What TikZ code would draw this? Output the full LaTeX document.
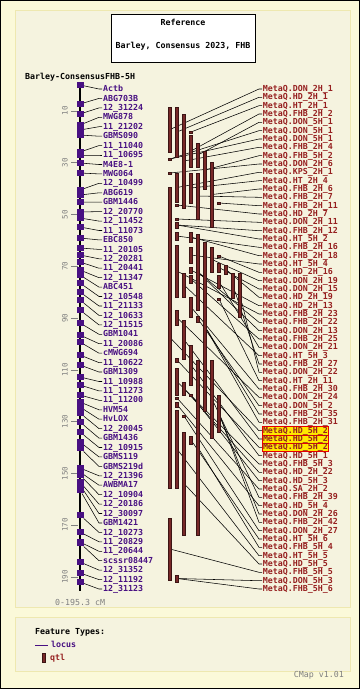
\documentclass[tikz,border=0pt]{standalone}
\usepackage{fontspec}
\setmonofont{DejaVu Sans Mono}
\usetikzlibrary{positioning}
\pgfdeclarelayer{back}
\pgfdeclarelayer{lines}
\pgfsetlayers{back,lines,main}
\definecolor{outerbg}{RGB}{251,249,217}
\definecolor{panelbg}{RGB}{245,243,223}
\definecolor{panelline}{RGB}{238,232,176}
\definecolor{locviolet}{RGB}{72,16,130}
\definecolor{qtlfill}{RGB}{120,40,40}
\definecolor{qtledge}{RGB}{60,20,20}
\definecolor{qtltext}{RGB}{150,32,32}
\definecolor{hiyellow}{RGB}{255,232,0}
\definecolor{hired}{RGB}{230,0,0}
\definecolor{scalegray}{RGB}{128,128,128}

\begin{document}
\begin{tikzpicture}[x=1pt, y=-1pt, inner sep=0pt,
      font=\ttfamily\bfseries\fontsize{8.3}{9}\selectfont,
      plain/.style={anchor=west, inner sep=1pt},
      locus/.style={anchor=west, text=locviolet, inner sep=1pt, text height=6pt, text depth=0.8pt},
      lblock/.style={rectangle, fill=locviolet, minimum width=7pt, minimum height=6.5pt},
      qtl/.style={rectangle, draw=qtledge, fill=qtlfill, line width=0.5pt, minimum width=3.4pt},
      qtick/.style={qtl, minimum height=1.6pt},
      qlabel/.style={anchor=west, text=qtltext, inner sep=0.7pt, text height=6pt, text depth=0.8pt},
      hilite/.style={fill=hiyellow, draw=hired, line width=0.6pt},
      scalelab/.style={rotate=90, text=scalegray, font=\ttfamily\mdseries\fontsize{7.5}{8}\selectfont},
      scaletick/.style={draw=scalegray, line width=0.6pt},
      link/.style={draw=black, line width=0.55pt,
        to path={-- ([xshift=-3pt]\tikztotarget.west) -- (\tikztotarget.west)}}]
  \useasboundingbox (0,0) rectangle (360,689);
  % frame and panels
  \begin{pgfonlayer}{back}
    \fill[outerbg] (0,0) rectangle (360,689);
    \draw[black, line width=1pt] (0.5,0.5) rectangle (359.5,688.5);
    \draw[panelline, fill=panelbg] (15,10) rectangle (350,607);
    \draw[panelline, fill=panelbg] (15,617) rectangle (350,671);
  \end{pgfonlayer}
  % reference box
  \node[draw=black, fill=white, line width=0.6pt, minimum width=144pt, minimum height=48pt] (refbox) at (183,38) {};
  \node (reftitle) at (183,22) {Reference};
  \node (refname) at (183,46) {Barley, Consensus 2023, FHB};
  \node[plain] (mapname) at (24,77) {Barley-ConsensusFHB-5H};
  % chromosome and scale
  \coordinate (chr_top) at (80,85);
  \coordinate (chr_bot) at (80,591);
  \draw[black, line width=2pt] (chr_top) -- (chr_bot);
  \draw[scaletick] (71,110.9) -- (78,110.9); \node[scalelab] (s_10) at (65,110.9) {10};
  \draw[scaletick] (71,162.7) -- (78,162.7); \node[scalelab] (s_30) at (65,162.7) {30};
  \draw[scaletick] (71,214.5) -- (78,214.5); \node[scalelab] (s_50) at (65,214.5) {50};
  \draw[scaletick] (71,266.2) -- (78,266.2); \node[scalelab] (s_70) at (65,266.2) {70};
  \draw[scaletick] (71,318.0) -- (78,318.0); \node[scalelab] (s_90) at (65,318.0) {90};
  \draw[scaletick] (71,369.8) -- (78,369.8); \node[scalelab] (s_110) at (65,369.8) {110};
  \draw[scaletick] (71,421.6) -- (78,421.6); \node[scalelab] (s_130) at (65,421.6) {130};
  \draw[scaletick] (71,473.4) -- (78,473.4); \node[scalelab] (s_150) at (65,473.4) {150};
  \draw[scaletick] (71,525.1) -- (78,525.1); \node[scalelab] (s_170) at (65,525.1) {170};
  \draw[scaletick] (71,576.9) -- (78,576.9); \node[scalelab] (s_190) at (65,576.9) {190};
  \node[plain, text=scalegray, font=\ttfamily\mdseries\fontsize{8.3}{9}\selectfont] (span) at (54,602) {0-195.3 cM};
  % loci on the chromosome
  \node[lblock] (lc_1) at (80,85) {};   \node[locus] (mk_1) at (102,89.0) {Actb};
  \node[lblock] (lc_2) at (80,104) {};  \node[locus] (mk_2) at (102,98.4) {ABG703B};
  \node[lblock] (lc_3) at (80,114) {};  \node[locus] (mk_3) at (102,107.9) {12\_31224};
  \node[lblock] (lc_4) at (80,125) {};  \node[locus] (mk_4) at (102,117.3) {MWG878};
  \node[lblock] (lc_5) at (80,130) {};  \node[locus] (mk_5) at (102,126.7) {11\_21202};
  \node[lblock] (lc_6) at (80,135) {};  \node[locus] (mk_6) at (102,136.2) {GBMS090};
  \node[lblock] (lc_7) at (80,152) {};  \node[locus] (mk_7) at (102,145.6) {11\_11040};
  \node[lblock] (lc_8) at (80,155) {};  \node[locus] (mk_8) at (102,155.0) {11\_10695};
  \node[lblock] (lc_9) at (80,163) {};  \node[locus] (mk_9) at (102,164.5) {M4E8-1};
  \node[lblock] (lc_10) at (80,173) {}; \node[locus] (mk_10) at (102,173.9) {MWG064};
  \node[lblock] (lc_11) at (80,190) {}; \node[locus] (mk_11) at (102,183.3) {12\_10499};
  \node[lblock] (lc_12) at (80,195) {}; \node[locus] (mk_12) at (102,192.8) {ABG619};
  \node[lblock] (lc_13) at (80,202) {}; \node[locus] (mk_13) at (102,202.2) {GBM1446};
  \node[lblock] (lc_14) at (80,212) {}; \node[locus] (mk_14) at (102,211.6) {12\_20770};
  \node[lblock] (lc_15) at (80,218) {}; \node[locus] (mk_15) at (102,221.1) {12\_11452};
  \node[lblock] (lc_16) at (80,227) {}; \node[locus] (mk_16) at (102,230.5) {11\_11073};
  \node[lblock] (lc_17) at (80,238) {}; \node[locus] (mk_17) at (102,239.9) {EBC850};
  \node[lblock] (lc_18) at (80,248) {}; \node[locus] (mk_18) at (102,249.4) {11\_20105};
  \node[lblock] (lc_19) at (80,255) {}; \node[locus] (mk_19) at (102,258.8) {12\_20281};
  \node[lblock] (lc_20) at (80,262) {}; \node[locus] (mk_20) at (102,268.2) {11\_20441};
  \node[lblock] (lc_21) at (80,270) {}; \node[locus] (mk_21) at (102,277.7) {12\_11347};
  \node[lblock] (lc_22) at (80,275) {}; \node[locus] (mk_22) at (102,287.1) {ABC451};
  \node[lblock] (lc_23) at (80,283) {}; \node[locus] (mk_23) at (102,296.5) {12\_10548};
  \node[lblock] (lc_24) at (80,292) {}; \node[locus] (mk_24) at (102,306.0) {11\_21133};
  \node[lblock] (lc_25) at (80,300) {}; \node[locus] (mk_25) at (102,315.4) {12\_10633};
  \node[lblock] (lc_26) at (80,310) {}; \node[locus] (mk_26) at (102,324.9) {12\_11515};
  \node[lblock] (lc_27) at (80,323) {}; \node[locus] (mk_27) at (102,334.3) {GBM1041};
  \node[lblock] (lc_28) at (80,335) {}; \node[locus] (mk_28) at (102,343.7) {11\_20086};
  \node[lblock] (lc_29) at (80,342) {}; \node[locus] (mk_29) at (102,353.2) {cMWG694};
  \node[lblock] (lc_30) at (80,355) {}; \node[locus] (mk_30) at (102,362.6) {11\_10622};
  \node[lblock] (lc_31) at (80,365) {}; \node[locus] (mk_31) at (102,372.0) {GBM1309};
  \node[lblock] (lc_32) at (80,377) {}; \node[locus] (mk_32) at (102,381.5) {11\_10988};
  \node[lblock] (lc_33) at (80,385) {}; \node[locus] (mk_33) at (102,390.9) {11\_11273};
  \node[lblock] (lc_34) at (80,395) {}; \node[locus] (mk_34) at (102,400.3) {11\_11200};
  \node[lblock] (lc_35) at (80,402) {}; \node[locus] (mk_35) at (102,409.8) {HVM54};
  \node[lblock] (lc_36) at (80,407) {}; \node[locus] (mk_36) at (102,419.2) {HvLOX};
  \node[lblock] (lc_37) at (80,413) {}; \node[locus] (mk_37) at (102,428.6) {12\_20045};
  \node[lblock] (lc_38) at (80,422) {}; \node[locus] (mk_38) at (102,438.1) {GBM1436};
  \node[lblock] (lc_39) at (80,432) {}; \node[locus] (mk_39) at (102,447.5) {12\_10915};
  \node[lblock] (lc_40) at (80,442) {}; \node[locus] (mk_40) at (102,456.9) {GBMS119};
  \node[lblock] (lc_41) at (80,448) {}; \node[locus] (mk_41) at (102,466.4) {GBMS219d};
  \node[lblock] (lc_42) at (80,468) {}; \node[locus] (mk_42) at (102,475.8) {12\_21396};
  \node[lblock] (lc_43) at (80,472) {}; \node[locus] (mk_43) at (102,485.2) {AWBMA17};
  \node[lblock] (lc_44) at (80,475) {}; \node[locus] (mk_44) at (102,494.7) {12\_10904};
  \node[lblock] (lc_45) at (80,482) {}; \node[locus] (mk_45) at (102,504.1) {12\_20186};
  \node[lblock] (lc_46) at (80,485) {}; \node[locus] (mk_46) at (102,513.5) {12\_30097};
  \node[lblock] (lc_47) at (80,490) {}; \node[locus] (mk_47) at (102,523.0) {GBM1421};
  \node[lblock] (lc_48) at (80,515) {}; \node[locus] (mk_48) at (102,532.4) {12\_10273};
  \node[lblock] (lc_49) at (80,532) {}; \node[locus] (mk_49) at (102,541.8) {11\_20829};
  \node[lblock] (lc_50) at (80,542) {}; \node[locus] (mk_50) at (102,551.3) {11\_20644};
  \node[lblock] (lc_51) at (80,543) {}; \node[locus] (mk_51) at (102,560.7) {scssr08447};
  \node[lblock] (lc_52) at (80,562) {}; \node[locus] (mk_52) at (102,570.1) {12\_31352};
  \node[lblock] (lc_53) at (80,573) {}; \node[locus] (mk_53) at (102,579.6) {12\_11192};
  \node[lblock] (lc_54) at (80,582) {}; \node[locus] (mk_54) at (102,589.0) {12\_31123};
  % qtl bars, one column at a time
  \node[qtl, minimum height=45pt] (b_A1) at (170,129.5) {};
  \node[qtick] (b_A2) at (170,159) {};
  \node[qtick] (b_A3) at (170,173) {};
  \node[qtl, minimum height=301pt] (b_A4) at (170,337.5) {};
  \node[qtl, minimum height=62pt] (b_A5) at (170,549) {};
  \node[qtl, minimum height=50pt] (b_B1) at (177,132) {};
  \node[qtl, minimum height=29pt] (b_B2) at (177,187.5) {};
  \node[qtick] (b_B3) at (177,205) {};
  \node[qtick] (b_B4) at (177,219) {};
  \node[qtl, minimum height=6pt] (b_B5) at (177,225) {};
  \node[qtl, minimum height=8pt] (b_B6) at (177,236) {};
  \node[qtl, minimum height=52pt] (b_B7) at (177,271) {};
  \node[qtl, minimum height=15pt] (b_B8) at (177,317.5) {};
  \node[qtl, minimum height=4pt] (b_B9) at (177,360) {};
  \node[qtl, minimum height=27pt] (b_B10) at (177,381.5) {};
  \node[qtick] (b_B11) at (177,398) {};
  \node[qtl, minimum height=5pt] (b_B12) at (177,404.5) {};
  \node[qtl, minimum height=78pt] (b_B13) at (177,449) {};
  \node[qtl, minimum height=7pt] (b_B14) at (177,578.5) {};
  \node[qtl, minimum height=94pt] (b_C1) at (184,161) {};
  \node[qtl, minimum height=24pt] (b_C2) at (184,285) {};
  \node[qtl, minimum height=39pt] (b_C3) at (184,339.5) {};
  \node[qtl, minimum height=13pt] (b_C4) at (184,388.5) {};
  \node[qtick] (b_Ct) at (184,416) {};
  \node[qtl, minimum height=103pt] (b_C5) at (184,483.5) {};
  \node[qtick] (b_D1) at (191,132) {};
  \node[qtl, minimum height=32pt] (b_D2) at (191,151) {};
  \node[qtl, minimum height=30pt] (b_D3) at (191,188) {};
  \node[qtl, minimum height=10pt] (b_D4) at (191,237) {};
  \node[qtl, minimum height=16pt] (b_D5) at (191,255) {};
  \node[qtl, minimum height=6pt] (b_D6) at (191,270) {};
  \node[qtl, minimum height=8pt] (b_D7) at (191,279) {};
  \node[qtl, minimum height=20pt] (b_D8) at (191,307) {};
  \node[qtl, minimum height=40pt] (b_D9) at (191,365) {};
  \node[qtick] (b_Dt) at (191,395) {};
  \node[qtl, minimum height=8pt] (b_D10) at (191,440) {};
  \node[qtl, minimum height=24pt] (b_E1) at (198,155) {};
  \node[qtl, minimum height=46pt] (b_E2) at (198,196) {};
  \node[qtl, minimum height=76pt] (b_E3) at (198,272) {};
  \node[qtl, minimum height=6pt] (b_E4) at (198,319) {};
  \node[qtl, minimum height=175pt] (b_E5) at (198,447.5) {};
  \node[qtl, minimum height=38pt] (b_F1) at (205,170) {};
  \node[qtl, minimum height=169pt] (b_F2) at (205,326.5) {};
  \node[qtl, minimum height=65pt] (b_G1) at (212,194.5) {};
  \node[qtl, minimum height=25pt] (b_G2) at (212,259.5) {};
  \node[qtl, minimum height=78pt] (b_G3) at (212,399) {};
  \node[qtick] (b_H0) at (219,203) {};
  \node[qtick] (b_H1) at (219,256) {};
  \node[qtl, minimum height=9pt] (b_H2) at (219,267.5) {};
  \node[qtl, minimum height=13pt] (b_H3) at (219,281.5) {};
  \node[qtick] (b_H4) at (219,299) {};
  \node[qtl, minimum height=37pt] (b_H5) at (219,413.5) {};
  \node[qtl, minimum height=9pt] (b_I1) at (226,269.5) {};
  \node[qtl, minimum height=25pt] (b_J1) at (233,285.5) {};
  \node[qtl, minimum height=44pt] (b_K1) at (240,295) {};
  % qtl labels
  \node[qlabel] (ql_1) at (262,89.0) {MetaQ.DON\_2H\_1};
  \node[qlabel] (ql_2) at (262,97.3) {MetaQ.HD\_2H\_1};
  \node[qlabel] (ql_3) at (262,105.7) {MetaQ.HT\_2H\_1};
  \node[qlabel] (ql_4) at (262,114.0) {MetaQ.FHB\_2H\_2};
  \node[qlabel] (ql_5) at (262,122.3) {MetaQ.DON\_5H\_1};
  \node[qlabel] (ql_6) at (262,130.7) {MetaQ.DON\_5H\_1};
  \node[qlabel] (ql_7) at (262,139.0) {MetaQ.DON\_5H\_1};
  \node[qlabel] (ql_8) at (262,147.3) {MetaQ.FHB\_2H\_4};
  \node[qlabel] (ql_9) at (262,155.7) {MetaQ.FHB\_5H\_2};
  \node[qlabel] (ql_10) at (262,164.0) {MetaQ.DON\_2H\_6};
  \node[qlabel] (ql_11) at (262,172.3) {MetaQ.KPS\_2H\_1};
  \node[qlabel] (ql_12) at (262,180.7) {MetaQ.HT\_2H\_4};
  \node[qlabel] (ql_13) at (262,189.0) {MetaQ.FHB\_2H\_6};
  \node[qlabel] (ql_14) at (262,197.3) {MetaQ.FHB\_2H\_7};
  \node[qlabel] (ql_15) at (262,205.7) {MetaQ.FHB\_2H\_11};
  \node[qlabel] (ql_16) at (262,214.0) {MetaQ.HD\_2H\_7};
  \node[qlabel] (ql_17) at (262,222.3) {MetaQ.DON\_2H\_11};
  \node[qlabel] (ql_18) at (262,230.7) {MetaQ.FHB\_2H\_12};
  \node[qlabel] (ql_19) at (262,239.0) {MetaQ.HT\_5H\_2};
  \node[qlabel] (ql_20) at (262,247.3) {MetaQ.FHB\_2H\_16};
  \node[qlabel] (ql_21) at (262,255.7) {MetaQ.FHB\_2H\_18};
  \node[qlabel] (ql_22) at (262,264.0) {MetaQ.HT\_5H\_4};
  \node[qlabel] (ql_23) at (262,272.3) {MetaQ.HD\_2H\_16};
  \node[qlabel] (ql_24) at (262,280.7) {MetaQ.DON\_2H\_19};
  \node[qlabel] (ql_25) at (262,289.0) {MetaQ.DON\_2H\_15};
  \node[qlabel] (ql_26) at (262,297.3) {MetaQ.HD\_2H\_19};
  \node[qlabel] (ql_27) at (262,305.7) {MetaQ.HD\_2H\_13};
  \node[qlabel] (ql_28) at (262,314.0) {MetaQ.FHB\_2H\_23};
  \node[qlabel] (ql_29) at (262,322.3) {MetaQ.FHB\_2H\_22};
  \node[qlabel] (ql_30) at (262,330.7) {MetaQ.DON\_2H\_13};
  \node[qlabel] (ql_31) at (262,339.0) {MetaQ.FHB\_2H\_25};
  \node[qlabel] (ql_32) at (262,347.3) {MetaQ.DON\_2H\_21};
  \node[qlabel] (ql_33) at (262,355.7) {MetaQ.HT\_5H\_3};
  \node[qlabel] (ql_34) at (262,364.0) {MetaQ.FHB\_2H\_27};
  \node[qlabel] (ql_35) at (262,372.3) {MetaQ.DON\_2H\_22};
  \node[qlabel] (ql_36) at (262,380.7) {MetaQ.HT\_2H\_11};
  \node[qlabel] (ql_37) at (262,389.0) {MetaQ.FHB\_2H\_30};
  \node[qlabel] (ql_38) at (262,397.3) {MetaQ.DON\_2H\_24};
  \node[qlabel] (ql_39) at (262,405.7) {MetaQ.DON\_5H\_2};
  \node[qlabel] (ql_40) at (262,414.0) {MetaQ.FHB\_2H\_35};
  \node[qlabel] (ql_41) at (262,422.3) {MetaQ.FHB\_2H\_31};
  \node[qlabel, hilite] (ql_42) at (262,430.7) {MetaQ.HD\_5H\_2};
  \node[qlabel, hilite] (ql_43) at (262,439.0) {MetaQ.HD\_5H\_2};
  \node[qlabel, hilite] (ql_44) at (262,447.3) {MetaQ.HD\_5H\_2};
  \node[qlabel] (ql_45) at (262,455.7) {MetaQ.HD\_5H\_1};
  \node[qlabel] (ql_46) at (262,464.0) {MetaQ.FHB\_5H\_3};
  \node[qlabel] (ql_47) at (262,472.3) {MetaQ.HD\_2H\_22};
  \node[qlabel] (ql_48) at (262,480.7) {MetaQ.HD\_5H\_3};
  \node[qlabel] (ql_49) at (262,489.0) {MetaQ.SA\_2H\_2};
  \node[qlabel] (ql_50) at (262,497.3) {MetaQ.FHB\_2H\_39};
  \node[qlabel] (ql_51) at (262,505.7) {MetaQ.HD\_5H\_4};
  \node[qlabel] (ql_52) at (262,514.0) {MetaQ.DON\_2H\_26};
  \node[qlabel] (ql_53) at (262,522.3) {MetaQ.FHB\_2H\_42};
  \node[qlabel] (ql_54) at (262,530.7) {MetaQ.DON\_2H\_27};
  \node[qlabel] (ql_55) at (262,539.0) {MetaQ.HT\_5H\_6};
  \node[qlabel] (ql_56) at (262,547.3) {MetaQ.FHB\_5H\_4};
  \node[qlabel] (ql_57) at (262,555.7) {MetaQ.HT\_5H\_5};
  \node[qlabel] (ql_58) at (262,564.0) {MetaQ.HD\_5H\_5};
  \node[qlabel] (ql_59) at (262,572.3) {MetaQ.FHB\_5H\_5};
  \node[qlabel] (ql_60) at (262,580.7) {MetaQ.DON\_5H\_3};
  \node[qlabel] (ql_61) at (262,589.0) {MetaQ.FHB\_5H\_6};
  % connectors, kept under the bars
  \begin{pgfonlayer}{lines}
    \path (lc_1) edge[link] (mk_1);   \path (lc_2) edge[link] (mk_2);   \path (lc_3) edge[link] (mk_3);
    \path (lc_4) edge[link] (mk_4);   \path (lc_5) edge[link] (mk_5);   \path (lc_6) edge[link] (mk_6);
    \path (lc_7) edge[link] (mk_7);   \path (lc_8) edge[link] (mk_8);   \path (lc_9) edge[link] (mk_9);
    \path (lc_10) edge[link] (mk_10); \path (lc_11) edge[link] (mk_11); \path (lc_12) edge[link] (mk_12);
    \path (lc_13) edge[link] (mk_13); \path (lc_14) edge[link] (mk_14); \path (lc_15) edge[link] (mk_15);
    \path (lc_16) edge[link] (mk_16); \path (lc_17) edge[link] (mk_17); \path (lc_18) edge[link] (mk_18);
    \path (lc_19) edge[link] (mk_19); \path (lc_20) edge[link] (mk_20); \path (lc_21) edge[link] (mk_21);
    \path (lc_22) edge[link] (mk_22); \path (lc_23) edge[link] (mk_23); \path (lc_24) edge[link] (mk_24);
    \path (lc_25) edge[link] (mk_25); \path (lc_26) edge[link] (mk_26); \path (lc_27) edge[link] (mk_27);
    \path (lc_28) edge[link] (mk_28); \path (lc_29) edge[link] (mk_29); \path (lc_30) edge[link] (mk_30);
    \path (lc_31) edge[link] (mk_31); \path (lc_32) edge[link] (mk_32); \path (lc_33) edge[link] (mk_33);
    \path (lc_34) edge[link] (mk_34); \path (lc_35) edge[link] (mk_35); \path (lc_36) edge[link] (mk_36);
    \path (lc_37) edge[link] (mk_37); \path (lc_38) edge[link] (mk_38); \path (lc_39) edge[link] (mk_39);
    \path (lc_40) edge[link] (mk_40); \path (lc_41) edge[link] (mk_41); \path (lc_42) edge[link] (mk_42);
    \path (lc_43) edge[link] (mk_43); \path (lc_44) edge[link] (mk_44); \path (lc_45) edge[link] (mk_45);
    \path (lc_46) edge[link] (mk_46); \path (lc_47) edge[link] (mk_47); \path (lc_48) edge[link] (mk_48);
    \path (lc_49) edge[link] (mk_49); \path (lc_50) edge[link] (mk_50); \path (lc_51) edge[link] (mk_51);
    \path (lc_52) edge[link] (mk_52); \path (lc_53) edge[link] (mk_53); \path (lc_54) edge[link] (mk_54);
    % qtl to label
    \path (b_A1) edge[link] (ql_1);  \path (b_B1) edge[link] (ql_2);  \path (b_D1) edge[link] (ql_3);
    \path (b_D2) edge[link] (ql_4);  \path (b_E1) edge[link] (ql_5);  \path (b_A2) edge[link] (ql_6);
    \path (b_A2) edge[link] (ql_7);  \path (b_C1) edge[link] (ql_8);  \path (b_F1) edge[link] (ql_9);
    \path (b_A3) edge[link] (ql_10); \path (b_B2) edge[link] (ql_11); \path (b_D3) edge[link] (ql_12);
    \path (b_G1) edge[link] (ql_13); \path (b_E2) edge[link] (ql_14); \path (b_H0) edge[link] (ql_15);
    \path (b_B3) edge[link] (ql_16); \path (b_B4) edge[link] (ql_17); \path (b_B5) edge[link] (ql_18);
    \path (b_B5) edge[link] (ql_19); \path (b_B6) edge[link] (ql_20); \path (b_D4) edge[link] (ql_21);
    \path (b_D5) edge[link] (ql_22); \path (b_H1) edge[link] (ql_23); \path (b_G2) edge[link] (ql_24);
    \path (b_H2) edge[link] (ql_25); \path (b_I1) edge[link] (ql_26); \path (b_D6) edge[link] (ql_27);
    \path (b_B7) edge[link] (ql_28); \path (b_E3) edge[link] (ql_29); \path (b_E3) edge[link] (ql_30);
    \path (b_D7) edge[link] (ql_31); \path (b_H3) edge[link] (ql_32); \path (b_C2) edge[link] (ql_33);
    \path (b_J1) edge[link] (ql_34); \path (b_K1) edge[link] (ql_35); \path (b_H4) edge[link] (ql_36);
    \path (b_D8) edge[link] (ql_37); \path (b_B8) edge[link] (ql_38); \path (b_E4) edge[link] (ql_39);
    \path (b_F2) edge[link] (ql_40); \path (b_F2) edge[link] (ql_41); \path (b_A4) edge[link] (ql_42);
    \path (b_C3) edge[link] (ql_43); \path (b_B9) edge[link] (ql_44); \path (b_D9) edge[link] (ql_45);
    \path (b_B10) edge[link] (ql_46); \path (b_C4) edge[link] (ql_47); \path (b_Dt) edge[link] (ql_48);
    \path (b_B11) edge[link] (ql_49); \path (b_G3) edge[link] (ql_50); \path (b_B12) edge[link] (ql_51);
    \path (b_H5) edge[link] (ql_52); \path (b_H5) edge[link] (ql_53); \path (b_Ct) edge[link] (ql_54);
    \path (b_D10) edge[link] (ql_55); \path (b_E5) edge[link] (ql_56); \path (b_B13) edge[link] (ql_57);
    \path (b_C5) edge[link] (ql_58); \path (b_A5) edge[link] (ql_59); \path (b_B14) edge[link] (ql_60);
    \path (b_B14) edge[link] (ql_61);
  \end{pgfonlayer}
  % legend
  \node[plain] (legtitle) at (34,632) {Feature Types:};
  \coordinate (leg_a) at (35,645);
  \coordinate (leg_b) at (48,645);
  \draw[locviolet, line width=1pt] (leg_a) -- (leg_b);
  \node[locus] (leglocus) at (50,645) {locus};
  \node[qtl, minimum height=9pt] (legbar) at (44,657.5) {};
  \node[plain, text=qtltext] (legqtl) at (49,658) {qtl};
  \node[anchor=east, text=scalegray, font=\ttfamily\mdseries\fontsize{8.3}{9}\selectfont] (version) at (344,675) {CMap v1.01};
\end{tikzpicture}
\end{document}
